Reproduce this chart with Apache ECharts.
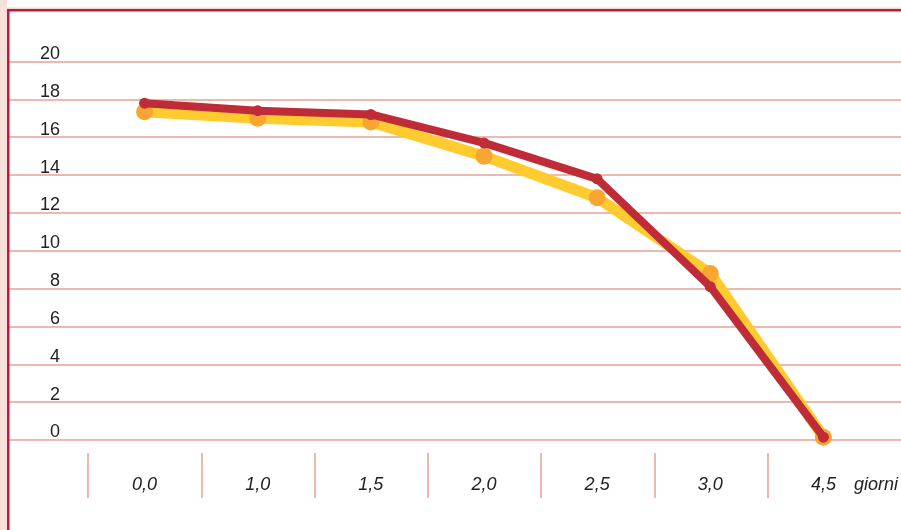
<!DOCTYPE html>
<html>
<head>
<meta charset="utf-8">
<script src="https://cdn.jsdelivr.net/npm/echarts@6/dist/echarts.min.js"></script>
<style>
  html, body { margin: 0; padding: 0; background: #ffffff; }
  #chart { width: 901px; height: 530px; }
</style>
</head>
<body>
<div id="chart"></div>
<script>
// Days on the horizontal axis
const categories = ['0,0', '1,0', '1,5', '2,0', '2,5', '3,0', '4,5'];
// Dark red series
const redValues = [17.8, 17.4, 17.2, 15.7, 13.8, 8.1, 0.15];
// Yellow series
const yellowValues = [17.35, 17.0, 16.8, 15.0, 12.8, 8.8, 0.15];
// Vertical scale
const yMin = 0;
const yMax = 20;
const yStep = 2;
const xUnit = 'giorni';

const gridColor = '#ebb9ad';
const textColor = '#222222';
const fontFamily = '"Liberation Sans", Arial, Helvetica, sans-serif';

const chart = echarts.init(document.getElementById('chart'), null, { renderer: 'canvas' });

chart.setOption({
  animation: false,
  backgroundColor: '#ffffff',
  graphic: [
    // pink strip on the left edge
    { type: 'rect', shape: { x: 0, y: 0, width: 7, height: 530 }, style: { fill: '#f6e0da' }, silent: true, z: 5 },
    { type: 'rect', shape: { x: 7, y: 7.5, width: 894, height: 1.5 }, style: { fill: '#f3d6d0' }, silent: true, z: 5 },
    // crimson frame
    { type: 'rect', shape: { x: 7, y: 9, width: 894, height: 2.5 }, style: { fill: '#c8153a' }, silent: true, z: 10 },
    { type: 'rect', shape: { x: 7, y: 9, width: 2.5, height: 521 }, style: { fill: '#c8153a' }, silent: true, z: 10 }
  ],
  grid: [
    { left: 8, right: 0, top: 61.5, bottom: 90 },
    { left: 88, right: 20, top: 61.5, bottom: 90 },
    { left: 88, right: 20, top: 453, bottom: 32 }
  ],
  xAxis: [
    {
      gridIndex: 0, type: 'category', data: categories, show: false
    },
    {
      gridIndex: 1, type: 'category', data: categories, boundaryGap: true,
      axisLine: { show: false }, axisTick: { show: false }, splitLine: { show: false },
      axisLabel: {
        margin: 36, color: textColor, fontSize: 18, fontStyle: 'italic', fontFamily: fontFamily
      },
      name: xUnit, nameLocation: 'end', nameGap: -26,
      nameTextStyle: {
        color: textColor, fontSize: 18, fontStyle: 'italic', fontFamily: fontFamily,
        align: 'left', verticalAlign: 'top', padding: [36, 0, 0, 0]
      }
    },
    {
      gridIndex: 2, type: 'category', data: categories, boundaryGap: true,
      axisLine: { show: false }, axisTick: { show: false }, axisLabel: { show: false },
      splitLine: { show: true, showMinLine: true, showMaxLine: false, lineStyle: { color: gridColor, width: 2 } }
    }
  ],
  yAxis: [
    {
      gridIndex: 0, type: 'value', min: yMin, max: yMax, interval: yStep,
      axisLine: { show: false }, axisTick: { show: false },
      splitLine: { show: true, lineStyle: { color: gridColor, width: 2 } },
      axisLabel: {
        inside: true, margin: 52, align: 'right', verticalAlign: 'bottom',
        lineHeight: 15,
        color: textColor, fontSize: 18, fontFamily: fontFamily
      }
    },
    {
      gridIndex: 1, type: 'value', min: yMin, max: yMax, interval: yStep, show: false,
      splitLine: { show: false }
    },
    {
      gridIndex: 2, type: 'value', show: false, splitLine: { show: false }
    }
  ],
  series: [
    {
      name: 'yellow', type: 'line', xAxisIndex: 1, yAxisIndex: 1, data: yellowValues,
      z: 2, symbol: 'circle', symbolSize: 17, showSymbol: true,
      itemStyle: { color: '#f8a532' },
      lineStyle: { color: '#ffcb2e', width: 11, join: 'round', cap: 'round' }
    },
    {
      name: 'red', type: 'line', xAxisIndex: 1, yAxisIndex: 1, data: redValues,
      z: 3, symbol: 'circle', symbolSize: 11, showSymbol: true,
      itemStyle: { color: '#bf2c38' },
      lineStyle: { color: '#bf2c38', width: 8, join: 'round', cap: 'round' }
    }
  ]
});
</script>
</body>
</html>
